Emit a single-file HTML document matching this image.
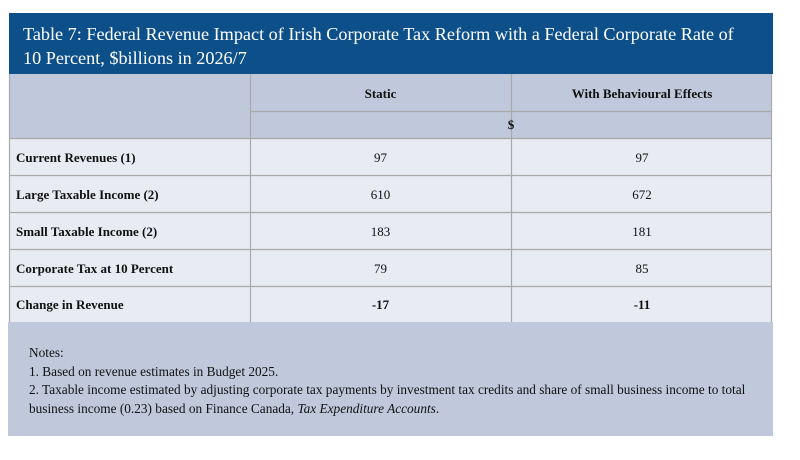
<!DOCTYPE html>
<html><head><meta charset="utf-8"><style>
body{margin:0;width:800px;height:460px;background:#fff;position:relative;font-family:"Liberation Serif",serif;overflow:hidden}
.a{position:absolute}
.t{left:9px;top:13px;width:764px;height:61px;background:#0d5089;color:#fff;font-size:18.2px;line-height:24px;white-space:nowrap}
.t div{padding:9px 0 0 14px}
.c{position:absolute;font-size:13px;color:#111;white-space:nowrap}
.b{font-weight:bold}
</style></head><body>
<div class="a t"><div>Table 7: Federal Revenue Impact of Irish Corporate Tax Reform with a Federal Corporate Rate of<br>10 Percent, $billions in 2026/7</div></div>
<svg class="a" style="left:0;top:0" width="800" height="460">
<rect x="9" y="74" width="763" height="64" fill="#bfc9db"/>
<rect x="9" y="138" width="763" height="184" fill="#e8ebf2"/>
<rect x="8" y="322" width="765" height="114" fill="#bfc9db"/>
<g stroke="#a9a9a9" stroke-width="1.2" fill="none">
<line x1="250.5" y1="74" x2="250.5" y2="322"/>
<line x1="511.5" y1="74" x2="511.5" y2="322"/>
<line x1="9.5" y1="74" x2="9.5" y2="322"/>
<line x1="771.5" y1="74" x2="771.5" y2="322"/>
<line x1="250" y1="111.5" x2="772" y2="111.5"/>
<line x1="9" y1="138.5" x2="772" y2="138.5"/>
<line x1="9" y1="175.5" x2="772" y2="175.5"/>
<line x1="9" y1="212.5" x2="772" y2="212.5"/>
<line x1="9" y1="249.5" x2="772" y2="249.5"/>
<line x1="9" y1="286.5" x2="772" y2="286.5"/>
</g>
</svg>
<div class="c b" style="left:250px;width:261px;text-align:center;top:86px">Static</div>
<div class="c b" style="left:512px;width:260px;text-align:center;top:86px">With Behavioural Effects</div>
<div class="c b" style="left:250px;width:522px;text-align:center;top:117px">$</div>
<div class="c b" style="left:16px;top:150px">Current Revenues (1)</div>
<div class="c b" style="left:16px;top:187px">Large Taxable Income (2)</div>
<div class="c b" style="left:16px;top:224px">Small Taxable Income (2)</div>
<div class="c b" style="left:16px;top:261px">Corporate Tax at 10 Percent</div>
<div class="c b" style="left:16px;top:297px">Change in Revenue</div>
<div class="c" style="left:250px;width:261px;text-align:center;top:150px">97</div>
<div class="c" style="left:512px;width:260px;text-align:center;top:150px">97</div>
<div class="c" style="left:250px;width:261px;text-align:center;top:187px">610</div>
<div class="c" style="left:512px;width:260px;text-align:center;top:187px">672</div>
<div class="c" style="left:250px;width:261px;text-align:center;top:224px">183</div>
<div class="c" style="left:512px;width:260px;text-align:center;top:224px">181</div>
<div class="c" style="left:250px;width:261px;text-align:center;top:261px">79</div>
<div class="c" style="left:512px;width:260px;text-align:center;top:261px">85</div>
<div class="c b" style="left:250px;width:261px;text-align:center;top:297px">-17</div>
<div class="c b" style="left:512px;width:260px;text-align:center;top:297px">-11</div>
<div class="c" style="left:29px;top:344px;line-height:18.5px;font-size:13.3px">Notes:<br>1. Based on revenue estimates in Budget 2025.<br>2. Taxable income estimated by adjusting corporate tax payments by investment tax credits and share of small business income to total<br>business income (0.23) based on Finance Canada, <i>Tax Expenditure Accounts</i>.</div>
</body></html>
